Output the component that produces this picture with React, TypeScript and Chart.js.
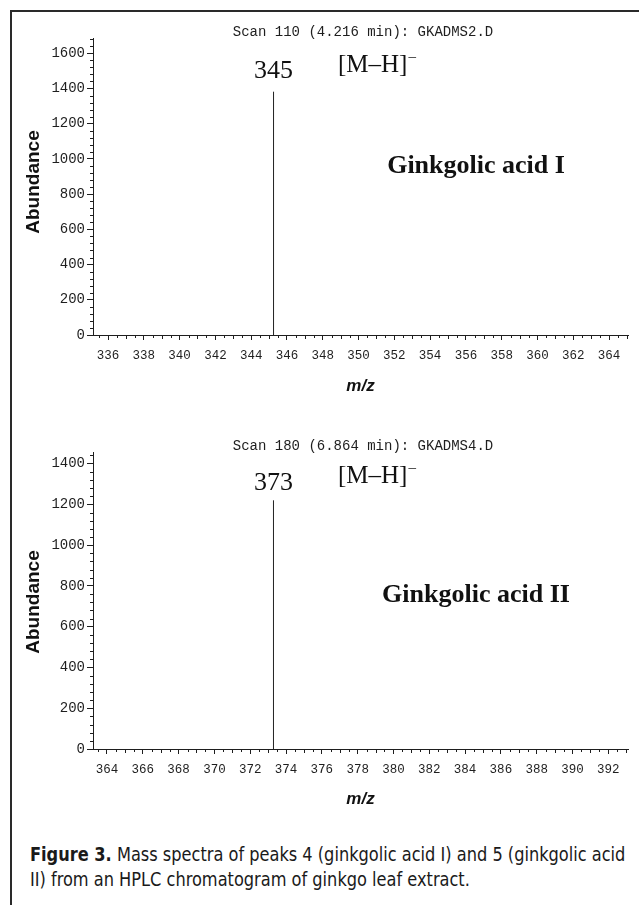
import React, { useEffect, useRef } from "react";
import { Chart, registerables } from "chart.js";

Chart.register(...registerables);

// ---- Spectrum 1 (Ginkgolic acid I) ----
const spec1Mz = [345.25];
const spec1Abundance = [1382];
const spec1XTicks = [336, 338, 340, 342, 344, 346, 348, 350, 352, 354, 356, 358, 360, 362, 364];
const spec1YTicks = [0, 200, 400, 600, 800, 1000, 1200, 1400, 1600];
const spec1Title = "Scan 110 (4.216 min): GKADMS2.D";
const spec1PeakLabel = "345";
const spec1Compound = "Ginkgolic acid I";

// ---- Spectrum 2 (Ginkgolic acid II) ----
const spec2Mz = [373.3];
const spec2Abundance = [1220];
const spec2XTicks = [364, 366, 368, 370, 372, 374, 376, 378, 380, 382, 384, 386, 388, 390, 392];
const spec2YTicks = [0, 200, 400, 600, 800, 1000, 1200, 1400];
const spec2Title = "Scan 180 (6.864 min): GKADMS4.D";
const spec2PeakLabel = "373";
const spec2Compound = "Ginkgolic acid II";

const ionLabel = "[M\u2013H]";
const ionCharge = "\u2013";
const yAxisTitle = "Abundance";
const xAxisTitle = "m/z";
const captionBold = "Figure 3.";
const captionLine1 = " Mass spectra of peaks 4 (ginkgolic acid I) and 5 (ginkgolic acid";
const captionLine2 = "II) from an HPLC chromatogram of ginkgo leaf extract.";

const INK = "#1e1e1e";

type Spec = {
  mz: number[];
  ab: number[];
  xTicks: number[];
  yTicks: number[];
  xMin: number;
  xMax: number;
  yMax: number;
  title: string;
  peakLabel: string;
  compound: string;
  canvasTop: number;
  canvasHeight: number;
  areaTop: number;
  areaBottom: number;
  titleY: number;
  peakLabelY: number;
  ionY: number;
  compoundY: number;
  yTitleY: number;
  xTitleY: number;
};

const SPECS: Spec[] = [
  {
    mz: spec1Mz,
    ab: spec1Abundance,
    xTicks: spec1XTicks,
    yTicks: spec1YTicks,
    xMin: 335.16,
    xMax: 365.06,
    yMax: 1687,
    title: spec1Title,
    peakLabel: spec1PeakLabel,
    compound: spec1Compound,
    canvasTop: 0,
    canvasHeight: 410,
    areaTop: 38,
    areaBottom: 335,
    titleY: 36,
    peakLabelY: 78,
    ionY: 72,
    compoundY: 173,
    yTitleY: 182,
    xTitleY: 391,
  },
  {
    mz: spec2Mz,
    ab: spec2Abundance,
    xTicks: spec2XTicks,
    yTicks: spec2YTicks,
    xMin: 363.22,
    xMax: 393.1,
    yMax: 1457,
    title: spec2Title,
    peakLabel: spec2PeakLabel,
    compound: spec2Compound,
    canvasTop: 415,
    canvasHeight: 405,
    areaTop: 452,
    areaBottom: 749,
    titleY: 450,
    peakLabelY: 490,
    ionY: 483,
    compoundY: 602,
    yTitleY: 602,
    xTitleY: 804,
  },
];

const AREA_LEFT = 93;
const AREA_RIGHT = 628;
const PAGE_W = 639;

function makeDecor(spec: Spec) {
  return {
    id: "decor",
    afterDraw(chart: any) {
      const { ctx, chartArea, scales } = chart;
      const xs = scales.x;
      const ys = scales.y;
      const off = spec.canvasTop;
      ctx.save();
      ctx.strokeStyle = INK;
      ctx.lineWidth = 1;
      for (let k = Math.ceil(xs.min * 2); k <= Math.floor(xs.max * 2); k++) {
        const v = k / 2;
        if (spec.xTicks.includes(v)) continue;
        const px = Math.round(xs.getPixelForValue(v)) + 0.5;
        const len = Number.isInteger(v) ? 4 : 3;
        ctx.beginPath();
        ctx.moveTo(px, chartArea.bottom);
        ctx.lineTo(px, chartArea.bottom + len);
        ctx.stroke();
      }
      for (let v = 40; v <= ys.max; v += 40) {
        if (spec.yTicks.includes(v)) continue;
        const py = Math.round(ys.getPixelForValue(v)) + 0.5;
        ctx.beginPath();
        ctx.moveTo(chartArea.left, py);
        ctx.lineTo(chartArea.left - 3, py);
        ctx.stroke();
      }

      ctx.fillStyle = INK;
      ctx.font = '14px "Liberation Mono", "DejaVu Sans Mono", monospace';
      ctx.textAlign = "center";
      ctx.textBaseline = "alphabetic";
      ctx.fillText(spec.title, 363, spec.titleY - off);

      const peakX = xs.getPixelForValue(spec.mz[0]);
      ctx.font = '26px "Liberation Serif", "Times New Roman", serif';
      ctx.fillStyle = "#111";
      ctx.fillText(spec.peakLabel, peakX, spec.peakLabelY - off);

      ctx.textAlign = "left";
      ctx.font = '25px "Liberation Serif", "Times New Roman", serif';
      ctx.fillText(ionLabel, 338, spec.ionY - off);
      const w = ctx.measureText(ionLabel).width;
      ctx.font = '15px "Liberation Serif", "Times New Roman", serif';
      ctx.fillText(ionCharge, 338 + w + 1, spec.ionY - off - 11);

      ctx.textAlign = "center";
      ctx.font = 'bold 26px "Liberation Serif", "Times New Roman", serif';
      ctx.fillText(spec.compound, 476, spec.compoundY - off);

      ctx.font = 'bold 19px "Liberation Sans", Arial, sans-serif';
      ctx.save();
      ctx.translate(39, spec.yTitleY - off);
      ctx.rotate(-Math.PI / 2);
      ctx.textAlign = "center";
      ctx.fillText(yAxisTitle, 0, 0);
      ctx.restore();

      ctx.font = 'italic bold 17px "Liberation Sans", Arial, sans-serif';
      ctx.textAlign = "center";
      ctx.fillText(xAxisTitle, (chartArea.left + chartArea.right) / 2, spec.xTitleY - off);
      ctx.restore();
    },
  };
}

function SpectrumChart({ spec }: { spec: Spec }) {
  const ref = useRef<HTMLCanvasElement | null>(null);
  useEffect(() => {
    if (!ref.current) return;
    const points: { x: number; y: number | null }[] = [];
    spec.mz.forEach((m, i) => {
      points.push({ x: m, y: 0 });
      points.push({ x: m, y: spec.ab[i] });
      points.push({ x: m, y: null });
    });
    const chart = new Chart(ref.current, {
      type: "scatter",
      data: {
        datasets: [
          {
            data: points as any,
            showLine: true,
            spanGaps: false,
            borderColor: "#222",
            borderWidth: 1,
            pointRadius: 0,
          },
        ],
      },
      options: {
        animation: false,
        responsive: false,
        events: [],
        layout: {
          padding: {
            top: spec.areaTop - spec.canvasTop,
            right: PAGE_W - AREA_RIGHT,
            left: 0,
            bottom: 0,
          },
        },
        plugins: {
          legend: { display: false },
          tooltip: { enabled: false },
          title: { display: false },
        },
        scales: {
          x: {
            type: "linear",
            min: spec.xMin,
            max: spec.xMax,
            afterBuildTicks: (s: any) => {
              s.ticks = spec.xTicks.map((v) => ({ value: v }));
            },
            afterFit: (s: any) => {
              s.height = spec.canvasTop + spec.canvasHeight - spec.areaBottom;
            },
            ticks: {
              autoSkip: false,
              maxRotation: 0,
              padding: 8,
              color: INK,
              font: { family: '"Liberation Mono", "DejaVu Sans Mono", monospace', size: 12.5 },
              callback: (v: any) => String(v),
            },
            grid: { drawOnChartArea: false, drawTicks: true, tickLength: 5, color: INK },
            border: { display: true, color: INK, width: 1 },
          },
          y: {
            type: "linear",
            min: 0,
            max: spec.yMax,
            afterBuildTicks: (s: any) => {
              s.ticks = spec.yTicks.map((v) => ({ value: v }));
            },
            afterFit: (s: any) => {
              s.width = AREA_LEFT;
            },
            ticks: {
              autoSkip: false,
              padding: 2,
              color: INK,
              font: { family: '"Liberation Mono", "DejaVu Sans Mono", monospace', size: 14 },
              callback: (v: any) => String(v),
            },
            grid: { drawOnChartArea: false, drawTicks: true, tickLength: 6, color: INK },
            border: { display: true, color: INK, width: 1 },
          },
        },
      },
      plugins: [makeDecor(spec)],
    });
    return () => chart.destroy();
  }, [spec]);
  return (
    <canvas
      ref={ref}
      width={PAGE_W}
      height={spec.canvasHeight}
      style={{ position: "absolute", left: 0, top: spec.canvasTop, width: PAGE_W, height: spec.canvasHeight }}
    />
  );
}

export default function App() {
  return (
    <div style={{ position: "absolute", left: 0, top: 0, width: PAGE_W, height: 905, background: "#fff", overflow: "hidden" }}>
      <div style={{ position: "absolute", left: 10, top: 10, width: PAGE_W - 10, height: 2, background: "#2a2a2a" }} />
      <div style={{ position: "absolute", left: 10, top: 10, width: 2, height: 895, background: "#2a2a2a" }} />
      {SPECS.map((s, i) => (
        <SpectrumChart key={i} spec={s} />
      ))}
      <div
        style={{
          position: "absolute",
          left: 30,
          top: 842,
          fontFamily: '"DejaVu Sans Condensed", "Liberation Sans", sans-serif',
          fontStretch: "condensed",
          fontSize: 20,
          lineHeight: "25px",
          color: "#1a1a1a",
          whiteSpace: "nowrap",
          transform: "scaleX(0.9)",
          transformOrigin: "0 0",
        }}
      >
        <div>
          <b>{captionBold}</b>
          {captionLine1}
        </div>
        <div>{captionLine2}</div>
      </div>
    </div>
  );
}
